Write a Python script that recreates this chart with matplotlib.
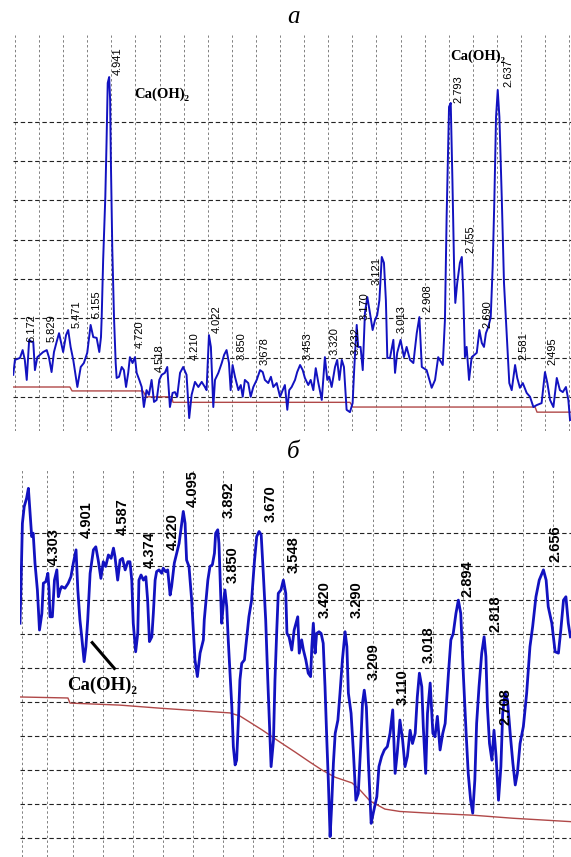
import numpy as np
import matplotlib.pyplot as plt

# ---- panel "а": 2theta (deg) and intensity (arb. units, grid step = 100)
top_tth = [13.93, 14.00, 14.21, 14.32, 14.41, 14.49, 14.59, 14.69, 14.76, 14.83,
           14.93, 15.04, 15.17, 15.32, 15.41, 15.52, 15.62, 15.73, 15.83, 15.91,
           16.00, 16.12, 16.21, 16.31, 16.42, 16.59, 16.73, 16.86, 17.00, 17.14,
           17.25, 17.39, 17.50, 17.57, 17.60, 17.66, 17.75, 17.80, 17.85, 17.91,
           17.95, 17.98, 18.04, 18.11, 18.18, 18.22, 18.32, 18.43, 18.52, 18.61,
           18.70, 18.77, 18.88, 18.98, 19.05, 19.16, 19.26, 19.35, 19.46, 19.56,
           19.67, 19.77, 19.88, 19.99, 20.09, 20.22, 20.32, 20.43, 20.54, 20.64,
           20.73, 20.85, 20.98, 21.12, 21.23, 21.33, 21.47, 21.61, 21.75, 21.88,
           21.95, 22.05, 22.13, 22.23, 22.30, 22.44, 22.58, 22.68, 22.78, 22.88,
           22.95, 23.03, 23.13, 23.27, 23.37, 23.45, 23.54, 23.68, 23.78, 23.89,
           24.03, 24.17, 24.28, 24.37, 24.51, 24.62, 24.72, 24.86, 25.00, 25.11,
           25.20, 25.30, 25.38, 25.48, 25.62, 25.71, 25.83, 25.94, 26.03, 26.17,
           26.27, 26.38, 26.48, 26.59, 26.73, 26.86, 26.96, 27.04, 27.14, 27.28,
           27.37, 27.46, 27.56, 27.65, 27.76, 27.90, 28.01, 28.08, 28.18, 28.24,
           28.34, 28.43, 28.52, 28.62, 28.73, 28.84, 28.94, 29.03, 29.12, 29.22,
           29.31, 29.39, 29.45, 29.56, 29.70, 29.77, 29.86, 30.00, 30.14, 30.25,
           30.39, 30.53, 30.67, 30.78, 30.88, 31.08, 31.29, 31.43, 31.56, 31.75,
           31.84, 31.91, 32.01, 32.08, 32.15, 32.22, 32.27, 32.35, 32.46, 32.54,
           32.60, 32.67, 32.74, 32.84, 32.95, 33.16, 33.27, 33.37, 33.46, 33.54,
           33.64, 33.74, 33.82, 33.89, 33.96, 34.03, 34.10, 34.20, 34.29, 34.40,
           34.51, 34.61, 34.75, 34.84, 34.95, 35.07, 35.23, 35.37, 35.51, 35.65,
           35.85, 35.99, 36.09, 36.20, 36.34, 36.48, 36.61, 36.73, 36.86, 36.96, 37.03]
top_int = [156, 194, 199, 219, 194, 143, 245, 240, 240, 168,
           201, 207, 214, 219, 201, 163, 214, 240, 262, 240,
           214, 257, 270, 227, 194, 125, 176, 186, 212, 283,
           252, 250, 214, 252, 303, 448, 609, 746, 899, 914,
           855, 703, 474, 303, 186, 148, 151, 176, 168, 125,
           161, 201, 186, 201, 161, 143, 125, 74, 117, 105,
           143, 87, 92, 143, 156, 161, 176, 74, 110, 112,
           100, 161, 176, 156, 46, 105, 138, 125, 138, 125,
           117, 257, 227, 74, 143, 161, 186, 207, 219, 186,
           117, 181, 151, 117, 130, 100, 143, 135, 100, 125,
           143, 168, 163, 143, 135, 151, 125, 135, 100, 117,
           130, 67, 117, 125, 143, 163, 181, 168, 148, 130,
           143, 117, 173, 135, 92, 201, 143, 151, 125, 176,
           194, 143, 194, 176, 67, 61, 84, 176, 283, 227,
           227, 168, 313, 354, 313, 270, 296, 308, 346, 456,
           441, 346, 199, 199, 245, 161, 212, 245, 201, 227,
           194, 186, 262, 303, 176, 168, 123, 143, 201, 181,
           296, 558, 838, 848, 652, 430, 339, 390, 441, 456,
           364, 201, 227, 143, 201, 212, 270, 237, 227, 262,
           278, 303, 430, 601, 812, 881, 812, 601, 390, 262,
           135, 117, 181, 148, 123, 135, 110, 100, 74, 79,
           84, 163, 135, 92, 74, 148, 117, 112, 125, 92, 41]
top_base_tth = [13.92, 16.28, 16.37, 19.31, 19.45, 20.50, 20.56, 27.90, 28.02, 35.58, 35.66, 37.07]
top_base_int = [125, 125, 115, 115, 100, 100, 86, 86, 74, 74, 61, 61]

top_labels = ['6.172', '5.829', '5.471', '5.155', '4.941', '4.720', '4.518', '4.210',
              '4.022', '3.850', '3.678', '3.453', '3.320', '3.232', '3.170', '3.121',
              '3.013', '2.908', '2.793', '2.755', '2.690', '2.637', '2.581', '2.495']
top_lab_x = [14.68, 15.54, 16.57, 17.40, 18.27, 19.19, 20.02, 21.47,
             22.38, 23.42, 24.37, 26.16, 27.28, 28.15, 28.52, 29.02,
             30.06, 31.10, 32.38, 32.88, 33.59, 34.46, 35.08, 36.28]
top_lab_y = [240, 240, 275, 301, 919, 224, 163, 194,
             263, 194, 181, 194, 207, 207, 296, 385,
             263, 316, 848, 466, 275, 889, 194, 181]

# ---- panel "б"
bot_tth = [16.22, 16.25, 16.30, 16.36, 16.44, 16.50, 16.55, 16.61, 16.66, 16.72,
           16.80, 16.87, 16.95, 17.00, 17.08, 17.15, 17.19, 17.22, 17.30, 17.37,
           17.45, 17.50, 17.56, 17.61, 17.72, 17.83, 17.92, 18.00, 18.09, 18.15,
           18.22, 18.28, 18.36, 18.42, 18.48, 18.56, 18.67, 18.75, 18.83, 18.92,
           19.00, 19.08, 19.17, 19.26, 19.34, 19.39, 19.48, 19.56, 19.64, 19.73,
           19.82, 19.89, 19.95, 20.00, 20.08, 20.15, 20.19, 20.26, 20.34, 20.42,
           20.48, 20.54, 20.62, 20.67, 20.73, 20.78, 20.86, 20.95, 21.00, 21.08,
           21.15, 21.23, 21.28, 21.37, 21.45, 21.53, 21.62, 21.67, 21.73, 21.78,
           21.86, 21.95, 22.01, 22.06, 22.14, 22.23, 22.34, 22.37, 22.43, 22.49,
           22.56, 22.64, 22.71, 22.75, 22.82, 22.86, 22.91, 22.95, 23.01, 23.06,
           23.12, 23.17, 23.23, 23.29, 23.34, 23.40, 23.45, 23.51, 23.56, 23.62,
           23.71, 23.79, 23.86, 23.95, 24.04, 24.12, 24.20, 24.27, 24.34, 24.42,
           24.49, 24.56, 24.60, 24.68, 24.73, 24.79, 24.84, 24.93, 25.01, 25.09,
           25.13, 25.20, 25.29, 25.37, 25.43, 25.49, 25.54, 25.62, 25.68, 25.76,
           25.84, 25.92, 25.96, 26.01, 26.07, 26.12, 26.20, 26.27, 26.34, 26.40,
           26.46, 26.51, 26.57, 26.62, 26.68, 26.74, 26.83, 26.90, 26.98, 27.07,
           27.13, 27.18, 27.27, 27.35, 27.43, 27.51, 27.59, 27.65, 27.71, 27.78,
           27.85, 27.94, 28.01, 28.13, 28.20, 28.29, 28.38, 28.48, 28.57, 28.66,
           28.74, 28.81, 28.90, 28.99, 29.07, 29.15, 29.24, 29.32, 29.41, 29.48,
           29.55, 29.63, 29.68, 29.76, 29.82, 29.91, 30.00, 30.07, 30.15, 30.24,
           30.33, 30.41, 30.52, 30.60, 30.68, 30.77, 30.85, 30.93, 31.02, 31.11,
           31.18, 31.26, 31.33, 31.40, 31.46, 31.54, 31.63, 31.71, 31.77, 31.82,
           31.89, 31.97, 32.04, 32.11, 32.19, 32.27, 32.33, 32.41, 32.49, 32.58,
           32.67, 32.75, 32.82, 32.91, 33.02, 33.13, 33.24, 33.33, 33.44, 33.55,
           33.69, 33.78, 33.85, 33.97, 34.08, 34.19, 34.27, 34.36, 34.44, 34.52, 34.59]
bot_int = [733, 831, 1027, 1076, 1101, 1130, 1067, 988, 998, 910,
           831, 713, 762, 851, 855, 880, 831, 752, 752, 860,
           890, 811, 831, 841, 836, 851, 870, 910, 949, 831,
           743, 693, 620, 664, 743, 880, 949, 958, 919, 865,
           914, 900, 934, 924, 954, 929, 860, 919, 924, 890,
           914, 914, 860, 733, 649, 703, 860, 875, 860, 870,
           801, 679, 693, 762, 860, 885, 890, 880, 895, 885,
           890, 816, 841, 910, 939, 968, 1027, 1062, 1027, 919,
           900, 801, 703, 625, 576, 645, 684, 743, 801, 860,
           900, 905, 939, 998, 1008, 968, 841, 733, 792, 831,
           782, 684, 586, 487, 370, 316, 330, 448, 566, 615,
           625, 693, 752, 801, 910, 988, 1003, 993, 880, 743,
           566, 409, 311, 389, 566, 713, 821, 831, 860, 821,
           703, 693, 654, 713, 733, 752, 645, 684, 654, 625,
           586, 576, 664, 733, 645, 703, 708, 703, 674, 546,
           389, 271, 105, 193, 321, 409, 448, 527, 625, 708,
           664, 527, 468, 350, 212, 232, 370, 497, 536, 487,
           321, 144, 174, 223, 311, 341, 360, 370, 409, 478,
           291, 350, 448, 389, 311, 341, 418, 379, 409, 516,
           586, 546, 429, 291, 468, 557, 409, 399, 459, 360,
           409, 438, 586, 684, 703, 762, 801, 762, 576, 409,
           291, 212, 174, 271, 438, 546, 645, 693, 635, 487,
           379, 330, 418, 340, 212, 311, 468, 527, 507, 409,
           321, 257, 291, 379, 429, 527, 664, 723, 811, 860,
           890, 860, 782, 733, 649, 645, 713, 801, 811, 733, 693]
bot_base_tth = [16.22, 17.82, 17.89, 19.56, 20.89, 22.23, 23.23, 23.56, 24.30, 24.90, 25.40, 25.90,
                26.30, 26.73, 27.30, 27.57, 27.90, 28.40, 28.90, 29.90, 31.34, 32.68, 34.61]
bot_base_int = [516, 513, 498, 492, 483, 475, 469, 460, 419, 383, 354, 324,
                301, 280, 263, 242, 210, 186, 179, 174, 168, 159, 149]

bot_labels = ['4.303', '4.901', '4.587', '4.374', '4.220', '4.095', '3.892', '3.850',
              '3.670', '3.548', '3.420', '3.290', '3.209', '3.110', '3.018', '2.894',
              '2.818', '2.708', '2.656']
bot_lab_x = [17.36, 18.45, 19.66, 20.56, 21.33, 22.00, 23.17, 23.33,
             24.60, 25.37, 26.40, 27.47, 28.04, 29.00, 29.87, 31.17,
             32.08, 32.41, 34.08]
bot_lab_y = [905, 984, 993, 896, 949, 1075, 1043, 852,
             1031, 881, 749, 749, 566, 492, 616, 810,
             707, 433, 913]

assert len(top_tth) == len(top_int)
assert len(bot_tth) == len(bot_int)

BLUE = '#1212c0'
RED = '#b04848'
NARROW = ['Liberation Sans Narrow', 'Liberation Sans', 'DejaVu Sans']
SERIF = ['Liberation Serif', 'DejaVu Serif']


def style_panel(ax, xgrid, ygrid):
    ax.set_xticks(xgrid)
    ax.set_yticks(ygrid)
    ax.tick_params(length=0, labelbottom=False, labelleft=False)
    for s in ax.spines.values():
        s.set_visible(False)
    ax.grid(axis='x', color='#808080', linestyle=(0, (2.5, 2.5)), linewidth=0.7)
    ax.grid(axis='y', color='#222222', linestyle=(0, (4, 2.5)), linewidth=0.8)
    ax.set_axisbelow(True)


fig = plt.figure(figsize=(5.71, 8.57), dpi=100)

# top panel
ax1 = fig.add_axes([13 / 571, 1 - 431 / 857, 558 / 571, 396 / 857])
style_panel(ax1, np.arange(14, 38), np.arange(100, 801, 100))
ax1.set_xlim(13.92, 37.07)
ax1.set_ylim(13, 1021)
ax1.plot(top_base_tth, top_base_int, color=RED, lw=1.0)
ax1.plot(top_tth, top_int, color=BLUE, lw=1.4)
for s, x, y in zip(top_labels, top_lab_x, top_lab_y):
    ax1.text(x, y, s, rotation=90, ha='center', va='bottom', fontsize=8, family=NARROW)
ax1.text(20.10, 871, 'Ca(OH)₂', ha='center', va='center', fontsize=10.5,
         weight='bold', family=SERIF)
ax1.text(33.21, 967, 'Ca(OH)₂', ha='center', va='center', fontsize=10.5,
         weight='bold', family=SERIF)

# bottom panel
ax2 = fig.add_axes([20 / 571, 0, 551 / 571, 387 / 857])
style_panel(ax2, [16.28, 17.13] + list(range(18, 35)), np.arange(100, 1001, 100))
ax2.set_xlim(16.22, 34.61)
ax2.set_ylim(45, 1184)
ax2.plot(bot_base_tth, bot_base_int, color=RED, lw=1.0)
ax2.plot(bot_tth, bot_int, color=BLUE, lw=2.0)
for s, x, y in zip(bot_labels, bot_lab_x, bot_lab_y):
    ax2.text(x, y, s, rotation=90, ha='center', va='bottom', fontsize=10.5,
             weight='bold', family=NARROW)
ax2.plot([18.63, 19.37], [676, 600], color='black', lw=2.2)
ax2.text(18.96, 551, 'Ca(OH)₂', ha='center', va='center', fontsize=13.5,
         weight='bold', family=SERIF)

fig.text(293 / 571, 1 - 17 / 857, 'а', ha='center', va='center', fontsize=18,
         style='italic', family=SERIF)
fig.text(293 / 571, 1 - 452 / 857, 'б', ha='center', va='center', fontsize=18,
         style='italic', family=SERIF)

fig.savefig('out.png', dpi=100)
